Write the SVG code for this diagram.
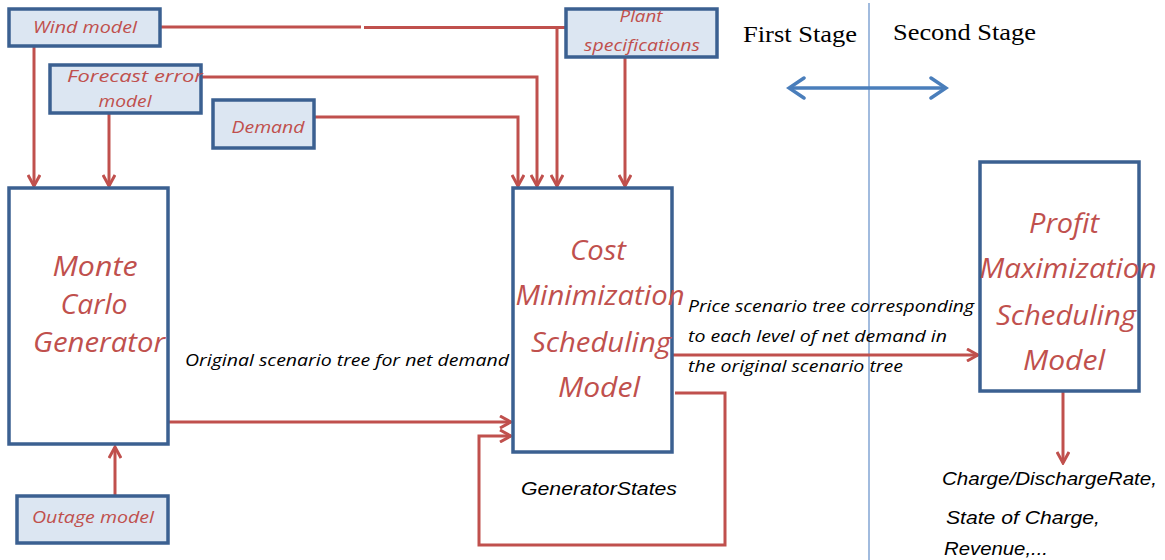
<svg xmlns="http://www.w3.org/2000/svg" width="1165" height="560" viewBox="0 0 1165 560">
<style>
.box{fill:#fff;stroke:#3B6091;stroke-width:3.5}
.sbox{fill:#DCE6F2;stroke:#3B6091;stroke-width:3.5}
.big{font-family:"Open Sans",Lato,sans-serif;font-style:italic;font-size:27px;fill:#C0504D;text-anchor:middle}
.sm{font-family:"Open Sans",Lato,sans-serif;font-style:italic;font-size:16.5px;fill:#C0504D;text-anchor:middle}
.lbl{font-family:"Open Sans",Lato,sans-serif;font-style:italic;font-size:16.5px;fill:#000}
.ar{font-family:"Liberation Sans",Arial,sans-serif;font-style:italic;font-size:19px;fill:#000}
.stg{font-family:"Liberation Serif","Times New Roman",serif;font-size:24px;fill:#000}
.c{fill:none;stroke:#C0504D;stroke-width:3}
</style>
<defs>
<marker id="ah" markerWidth="14" markerHeight="14" refX="12" refY="7" orient="auto" markerUnits="userSpaceOnUse"><path d="M1,1 L12,7 L1,13" fill="none" stroke="#C0504D" stroke-width="3"/></marker>
<marker id="bh" markerWidth="20" markerHeight="24" refX="17" refY="12" orient="auto-start-reverse" markerUnits="userSpaceOnUse"><path d="M2,2 L17,12 L2,22" fill="none" stroke="#4A7EBB" stroke-width="3.5" stroke-linecap="round"/></marker>
</defs>

<line x1="869" y1="3" x2="869" y2="560" stroke="#6F97CC" stroke-width="1.3"/>
<g id="stage-labels">
<text class="stg" x="743" y="42" textLength="114" lengthAdjust="spacingAndGlyphs">First Stage</text>
<text class="stg" x="893" y="40" textLength="143" lengthAdjust="spacingAndGlyphs">Second Stage</text>
<line x1="789" y1="88" x2="946" y2="88" stroke="#4A7EBB" stroke-width="3.5" marker-start="url(#bh)" marker-end="url(#bh)"/>
</g>

<g id="connectors">
<path class="c" d="M160,27 H361"/>
<path class="c" d="M364,27.5 H566"/>
<path class="c" d="M557,27 V186" marker-end="url(#ah)"/>
<path class="c" d="M34,46 V186" marker-end="url(#ah)"/>
<path class="c" d="M109,113 V186" marker-end="url(#ah)"/>
<path class="c" d="M201,77 H537 V186" marker-end="url(#ah)"/>
<path class="c" d="M314,117 H518 V186" marker-end="url(#ah)"/>
<path class="c" d="M625,57 V186" marker-end="url(#ah)"/>
<path class="c" d="M165,422 H511" marker-end="url(#ah)"/>
<path class="c" d="M115,496 V447" marker-end="url(#ah)"/>
<path class="c" d="M675,393 H725 V545 H479 V436 H511" marker-end="url(#ah)"/>
<path class="c" d="M673,355 H978" marker-end="url(#ah)"/>
<path class="c" d="M1063,391 V463" marker-end="url(#ah)"/>
</g>

<g id="wind">
<rect class="sbox" x="9" y="9" width="151" height="37"/>
<text class="sm" x="85" y="33" textLength="104" lengthAdjust="spacingAndGlyphs">Wind model</text>
</g>
<g id="forecast">
<rect class="sbox" x="50" y="65" width="151" height="48"/>
<text class="sm" x="135" y="82" textLength="136" lengthAdjust="spacingAndGlyphs">Forecast error</text>
<text class="sm" x="125" y="107" textLength="53" lengthAdjust="spacingAndGlyphs">model</text>
</g>
<g id="demand">
<rect class="sbox" x="213" y="100" width="101" height="48"/>
<text class="sm" x="268" y="133" textLength="73" lengthAdjust="spacingAndGlyphs">Demand</text>
</g>
<g id="plant">
<rect class="sbox" x="566" y="9" width="151" height="48"/>
<text class="sm" x="641" y="22" textLength="43" lengthAdjust="spacingAndGlyphs">Plant</text>
<text class="sm" x="642" y="51" textLength="116" lengthAdjust="spacingAndGlyphs">specifications</text>
</g>
<g id="outage">
<rect class="sbox" x="17" y="496" width="151" height="47"/>
<text class="sm" x="93" y="523" textLength="122" lengthAdjust="spacingAndGlyphs">Outage model</text>
</g>
<g id="montecarlo">
<rect class="box" x="9" y="188" width="159" height="256"/>
<text class="big" x="95" y="276" textLength="85" lengthAdjust="spacingAndGlyphs">Monte</text>
<text class="big" x="94" y="314" textLength="67" lengthAdjust="spacingAndGlyphs">Carlo</text>
<text class="big" x="99" y="352" textLength="132" lengthAdjust="spacingAndGlyphs">Generator</text>
</g>
<g id="cost">
<rect class="box" x="513" y="188" width="159" height="264"/>
<text class="big" x="598" y="260" textLength="56" lengthAdjust="spacingAndGlyphs">Cost</text>
<text class="big" x="600" y="305" textLength="169" lengthAdjust="spacingAndGlyphs">Minimization</text>
<text class="big" x="601" y="352" textLength="140" lengthAdjust="spacingAndGlyphs">Scheduling</text>
<text class="big" x="599" y="397" textLength="82" lengthAdjust="spacingAndGlyphs">Model</text>
</g>
<g id="profit">
<rect class="box" x="980" y="162" width="159" height="229"/>
<text class="big" x="1064" y="233" textLength="70" lengthAdjust="spacingAndGlyphs">Profit</text>
<text class="big" x="1068" y="278" textLength="177" lengthAdjust="spacingAndGlyphs">Maximization</text>
<text class="big" x="1066" y="325" textLength="140" lengthAdjust="spacingAndGlyphs">Scheduling</text>
<text class="big" x="1064" y="370" textLength="82" lengthAdjust="spacingAndGlyphs">Model</text>
</g>

<g id="labels">
<text class="lbl" x="185" y="366" textLength="324" lengthAdjust="spacingAndGlyphs">Original scenario tree for net demand</text>
<text class="lbl" x="688" y="312" textLength="286" lengthAdjust="spacingAndGlyphs">Price scenario tree corresponding</text>
<text class="lbl" x="688" y="342" textLength="259" lengthAdjust="spacingAndGlyphs">to each level of net demand in</text>
<text class="lbl" x="688" y="372" textLength="215" lengthAdjust="spacingAndGlyphs">the original scenario tree</text>
<text class="ar" x="521" y="495" textLength="156" lengthAdjust="spacingAndGlyphs">GeneratorStates</text>
<text class="ar" x="942" y="485" textLength="215" lengthAdjust="spacingAndGlyphs">Charge/DischargeRate,</text>
<text class="ar" x="946" y="524" textLength="154" lengthAdjust="spacingAndGlyphs">State of Charge,</text>
<text class="ar" x="944" y="555" textLength="104" lengthAdjust="spacingAndGlyphs">Revenue,...</text>
</g>
</svg>
